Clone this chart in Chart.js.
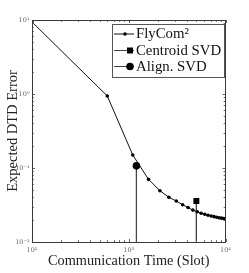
<!DOCTYPE html>
<html>
<head>
<meta charset="utf-8">
<script src="https://cdn.jsdelivr.net/npm/chart.js@4/dist/chart.umd.min.js"></script>
<style>
html,body{margin:0;padding:0;background:#fff;}
canvas{display:block;}
</style>
</head>
<body>
<canvas id="c" width="249" height="273"></canvas>
<script>
// ---- data ----
const flyX = [100, 600, 1100, 1600, 2100, 2600, 3100, 3600, 4100, 4600, 5100, 5600, 6100, 6600, 7100, 7600, 8100, 8600, 9100, 9600];
const flyY = [9.4, 0.94, 0.150, 0.0703, 0.0493, 0.0402, 0.0358, 0.0319, 0.0292, 0.0270, 0.0256, 0.0245, 0.0237, 0.0230, 0.0225, 0.0220, 0.0216, 0.0212, 0.0210, 0.0207];
const centroidX = [5000];
const centroidY = [0.0358];
const alignX = [1200];
const alignY = [0.107];
const xTicks = [100, 1000, 10000];
const xTickLabels = ['10²', '10³', '10⁴'];
const yTicks = [0.01, 0.1, 1, 10];
const yTickLabels = ['10⁻²', '10⁻¹', '10⁰', '10¹'];
const legendLabels = ['FlyCom²', 'Centroid SVD', 'Align. SVD'];
const yMin = 0.01, yMax = 10, xMin = 100, xMax = 10000;

const serif = "'Liberation Serif', 'DejaVu Serif', serif";

function stem(xs, ys) {
  const pts = [];
  xs.forEach((x, i) => { pts.push({x: x, y: ys[i]}); pts.push({x: x, y: yMin}); });
  return pts;
}

const boxPlugin = {
  id: 'boxPlugin',
  afterDatasetsDraw(chart) {
    const {ctx, chartArea: a, scales: {x, y}} = chart;
    ctx.save();
    ctx.strokeStyle = '#666';
    ctx.lineWidth = 1;
    const xt = [];
    for (let d = 100; d < 10000; d *= 10) for (let k = 1; k <= 9; k++) xt.push(d * k);
    xt.push(10000);
    xt.forEach(v => {
      const px = Math.round(x.getPixelForValue(v)) + 0.5;
      const major = xTicks.includes(v);
      const len = major ? 3 : 1.8;
      ctx.beginPath();
      ctx.moveTo(px, a.bottom); ctx.lineTo(px, a.bottom - len);
      ctx.moveTo(px, a.top); ctx.lineTo(px, a.top + len);
      ctx.stroke();
    });
    const yt = [];
    for (let d = 0.01; d < 10; d *= 10) for (let k = 1; k <= 9; k++) yt.push(d * k);
    yt.push(10);
    yt.forEach(v => {
      const py = Math.round(y.getPixelForValue(v)) + 0.5;
      const major = yTicks.some(t => Math.abs(t - v) / t < 1e-6);
      const len = major ? 3 : 1.8;
      ctx.beginPath();
      ctx.moveTo(a.left, py); ctx.lineTo(a.left + len, py);
      ctx.moveTo(a.right, py); ctx.lineTo(a.right - len, py);
      ctx.stroke();
    });
    ctx.strokeStyle = '#3a3a3a';
    ctx.strokeRect(Math.round(a.left) + 0.5, Math.round(a.top) + 0.5,
                   Math.round(a.right) - Math.round(a.left) - 1, Math.round(a.bottom) - Math.round(a.top));
    // legend
    const lx = 112.5, ly = 24.5, lw = 112, lh = 53;
    ctx.fillStyle = '#fff';
    ctx.fillRect(lx, ly, lw, lh);
    ctx.strokeStyle = '#555';
    ctx.strokeRect(lx, ly, lw, lh);
    const rows = [33.5, 50, 66];
    ctx.font = "14.8px " + serif;
    ctx.textBaseline = 'middle';
    ctx.textAlign = 'left';
    rows.forEach((ry, i) => {
      ctx.strokeStyle = i === 0 ? '#111' : '#444';
      ctx.lineWidth = 1;
      ctx.beginPath();
      ctx.moveTo(114, ry + 0.5); ctx.lineTo(134, ry + 0.5);
      ctx.stroke();
      ctx.fillStyle = '#000';
      ctx.beginPath();
      if (i === 0) { ctx.arc(125, ry + 0.5, 1.8, 0, Math.PI * 2); ctx.fill(); }
      else if (i === 1) { ctx.fillRect(127, ry - 2.5, 6, 6); }
      else { ctx.arc(130, ry + 0.5, 3.8, 0, Math.PI * 2); ctx.fill(); }
      ctx.fillStyle = '#111';
      ctx.fillText(legendLabels[i], 136, ry + 1);
    });
    ctx.restore();
  }
};

new Chart(document.getElementById('c'), {
  type: 'line',
  data: {
    datasets: [
      {
        label: legendLabels[0],
        data: flyX.map((v, i) => ({x: v, y: flyY[i]})),
        borderColor: '#111', backgroundColor: '#000',
        borderWidth: 1, pointRadius: 1.8, pointBorderWidth: 0, pointHoverRadius: 0, tension: 0
      },
      {
        label: legendLabels[1],
        data: stem(centroidX, centroidY),
        borderColor: '#444', backgroundColor: '#000',
        borderWidth: 1, pointStyle: 'rect', pointRadius: [4.2, 0], pointBorderWidth: 0, pointHoverRadius: 0
      },
      {
        label: legendLabels[2],
        data: stem(alignX, alignY),
        borderColor: '#444', backgroundColor: '#000',
        borderWidth: 1, pointStyle: 'circle', pointRadius: [3.8, 0], pointBorderWidth: 0, pointHoverRadius: 0
      }
    ]
  },
  options: {
    responsive: false, animation: false, devicePixelRatio: 1,
    layout: {padding: {left: 0, right: 23.5, top: 20, bottom: 0}},
    plugins: {legend: {display: false}, tooltip: {enabled: false}},
    scales: {
      x: {
        type: 'logarithmic', min: xMin, max: xMax,
        afterBuildTicks: s => { s.ticks = xTicks.map(v => ({value: v})); },
        afterFit: s => { s.height = 31; },
        ticks: {callback: (v, i) => xTickLabels[i], font: {size: 6.5, family: "'DejaVu Serif', serif"}, color: '#666', padding: 4.2, maxRotation: 0, autoSkip: false},
        grid: {display: false, drawTicks: false},
        border: {display: false},
        title: {display: true, text: 'Communication Time (Slot)', font: {size: 14.3, family: serif}, color: '#222', padding: {top: 0, bottom: 3.4}}
      },
      y: {
        type: 'logarithmic', min: yMin, max: yMax,
        afterBuildTicks: s => { s.ticks = yTicks.map(v => ({value: v})); },
        afterFit: s => { s.width = 32; },
        ticks: {callback: (v, i) => yTickLabels[i], font: {size: 6.5, family: "'DejaVu Serif', serif"}, color: '#666', padding: 2.5, autoSkip: false},
        grid: {display: false, drawTicks: false},
        border: {display: false},
        title: {display: true, text: 'Expected DTD Error', font: {size: 14.5, family: serif}, color: '#222', padding: {top: 4.3, bottom: 0}}
      }
    }
  },
  plugins: [boxPlugin]
});
</script>
</body>
</html>
